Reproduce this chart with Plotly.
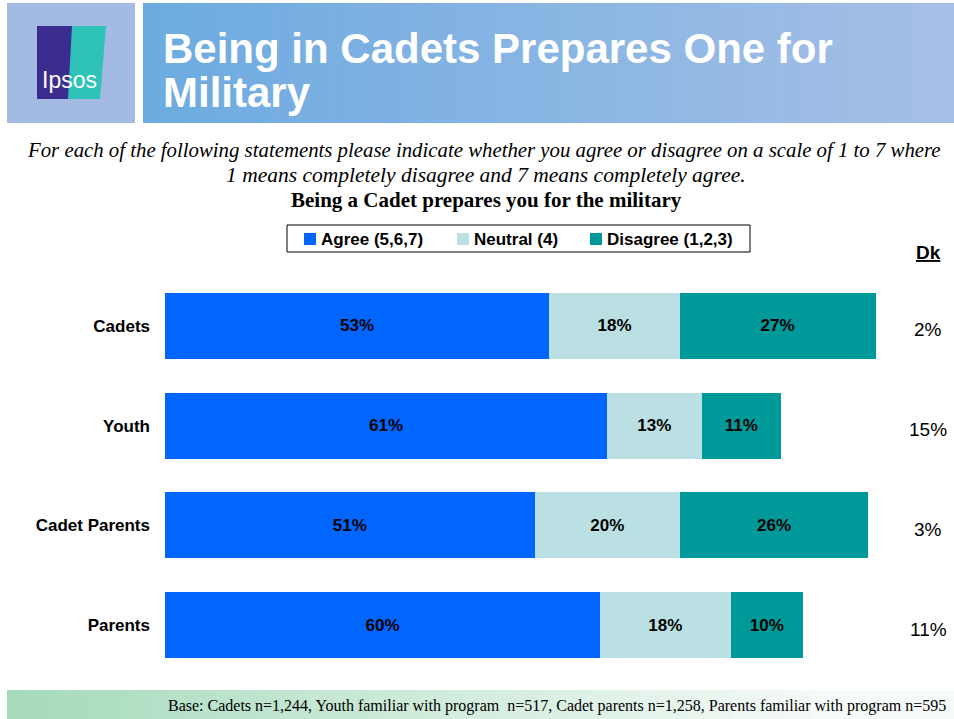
import plotly.graph_objects as go

# ---------------- data ----------------
categories = ["Cadets", "Youth", "Cadet Parents", "Parents"]
agree = [53, 61, 51, 60]
neutral = [18, 13, 20, 18]
disagree = [27, 11, 26, 10]
dont_know = [2, 15, 3, 11]
series_names = ["Agree (5,6,7)", "Neutral (4)", "Disagree (1,2,3)"]
series_colors = ["#0066ff", "#bbe0e3", "#009999"]

W, H = 954, 719
L, R, T, B = 165, 64, 276, 44
PW = W - L - R
PH = H - T - B


def xp(px):
    return (px - L) / PW


def yp(py):
    return (H - B - py) / PH


SANS = "Liberation Sans, Arial, sans-serif"
SERIF = "Liberation Serif, Times New Roman, serif"

fig = go.Figure()
for name, vals, col in zip(series_names, [agree, neutral, disagree], series_colors):
    fig.add_trace(go.Bar(
        y=categories, x=vals, name=name, orientation="h",
        marker=dict(color=col, line=dict(width=0)),
        texttemplate="%{x}%", textposition="inside", insidetextanchor="middle",
        textangle=0, constraintext="none",
        textfont=dict(family=SANS, size=17, color="black", weight="bold"),
        hoverinfo="skip", showlegend=False,
    ))

shapes = []
annotations = []

# header: left logo box
shapes.append(dict(type="rect", xref="paper", yref="paper",
                   x0=xp(7), x1=xp(135), y0=yp(123), y1=yp(3),
                   fillcolor="#a3bbe2", line=dict(width=0), layer="below"))
# header title band (gradient stripes)
n = 60
c0 = (108, 171, 224)
c1 = (166, 191, 230)
x_start, x_end = 143, 954
for i in range(n):
    t = i / (n - 1)
    col = tuple(int(round(c0[k] + (c1[k] - c0[k]) * t)) for k in range(3))
    xa = x_start + (x_end - x_start) * i / n
    xb = x_start + (x_end - x_start) * (i + 1) / n + 0.6
    shapes.append(dict(type="rect", xref="paper", yref="paper",
                       x0=xp(xa), x1=xp(xb), y0=yp(123), y1=yp(3),
                       fillcolor="rgb(%d,%d,%d)" % col, line=dict(width=0), layer="below"))
# logo
shapes.append(dict(type="rect", xref="paper", yref="paper",
                   x0=xp(37), x1=xp(73), y0=yp(99), y1=yp(26),
                   fillcolor="#3b2d8f", line=dict(width=0), layer="below"))
shapes.append(dict(type="path", xref="paper", yref="paper",
                   path="M %f,%f L %f,%f L %f,%f L %f,%f Z" % (
                       xp(72), yp(26), xp(106), yp(26), xp(100), yp(99), xp(68), yp(99)),
                   fillcolor="#2fc2b8", line=dict(width=0), layer="below"))
# footer gradient band
c0f = (166, 219, 188)
c1f = (246, 250, 248)
for i in range(n):
    t = i / (n - 1)
    col = tuple(int(round(c0f[k] + (c1f[k] - c0f[k]) * min(1, t * 1.15))) for k in range(3))
    xa = 7 + (954 - 7) * i / n
    xb = 7 + (954 - 7) * (i + 1) / n + 0.6
    shapes.append(dict(type="rect", xref="paper", yref="paper",
                       x0=xp(xa), x1=xp(xb), y0=yp(719), y1=yp(690),
                       fillcolor="rgb(%d,%d,%d)" % col, line=dict(width=0), layer="below"))

# manual legend
shapes.append(dict(type="rect", xref="paper", yref="paper",
                   x0=xp(287), x1=xp(750), y0=yp(252), y1=yp(225),
                   fillcolor="white", line=dict(color="black", width=1)))
legend_sq_x = [304, 457, 590]
for name, col, sx in zip(series_names, series_colors, legend_sq_x):
    shapes.append(dict(type="rect", xref="paper", yref="paper",
                       x0=xp(sx), x1=xp(sx + 12), y0=yp(245), y1=yp(233),
                       fillcolor=col, line=dict(width=0)))
    annotations.append(dict(xref="paper", yref="paper", x=xp(sx + 15), y=yp(239),
                            text=name, showarrow=False, xanchor="left", yanchor="middle",
                            font=dict(family=SANS, size=17, color="black", weight="bold")))

annotations.append(dict(xref="paper", yref="paper", x=xp(69), y=yp(80),
                        text="Ipsos", showarrow=False, xanchor="center", yanchor="middle",
                        font=dict(family=SANS, size=23, color="white")))
annotations.append(dict(xref="paper", yref="paper", x=xp(161), y=yp(48),
                        text="Being in Cadets Prepares One for",
                        showarrow=False, xanchor="left", yanchor="middle", align="left",
                        font=dict(family=SANS, size=42, color="white", weight="bold")))
annotations.append(dict(xref="paper", yref="paper", x=xp(161), y=yp(92),
                        text="Military",
                        showarrow=False, xanchor="left", yanchor="middle", align="left",
                        font=dict(family=SANS, size=42, color="white", weight="bold")))
annotations.append(dict(xref="paper", yref="paper", x=xp(484), y=yp(150),
                        text="For each of the following statements please indicate whether you agree or disagree on a scale of 1 to 7 where",
                        showarrow=False, xanchor="center", yanchor="middle",
                        font=dict(family=SERIF, size=20.8, color="black", style="italic")))
annotations.append(dict(xref="paper", yref="paper", x=xp(486), y=yp(175),
                        text="1 means completely disagree and 7 means completely agree.",
                        showarrow=False, xanchor="center", yanchor="middle",
                        font=dict(family=SERIF, size=21.5, color="black", style="italic")))
annotations.append(dict(xref="paper", yref="paper", x=xp(486), y=yp(200),
                        text="Being a Cadet prepares you for the military",
                        showarrow=False, xanchor="center", yanchor="middle",
                        font=dict(family=SERIF, size=21, color="black", weight="bold")))
annotations.append(dict(xref="paper", yref="paper", x=xp(948), y=yp(706),
                        text="Base: Cadets n=1,244, Youth familiar with program  n=517, Cadet parents n=1,258, Parents familiar with program n=595",
                        showarrow=False, xanchor="right", yanchor="middle",
                        font=dict(family=SERIF, size=16, color="black")))
annotations.append(dict(xref="paper", yref="paper", x=xp(928), y=yp(252),
                        text="<u><b>Dk</b></u>", showarrow=False, xanchor="center", yanchor="middle",
                        font=dict(family=SANS, size=19, color="black")))
for cat, dk in zip(categories, dont_know):
    annotations.append(dict(xref="paper", yref="y", x=xp(928), y=cat, yshift=-4,
                            text="%d%%" % dk, showarrow=False, xanchor="center", yanchor="middle",
                            font=dict(family=SANS, size=19, color="black")))

fig.update_layout(
    width=W, height=H,
    margin=dict(l=L, r=R, t=T, b=B, pad=0),
    barmode="stack", bargap=0.34,
    paper_bgcolor="white", plot_bgcolor="white",
    showlegend=False,
    xaxis=dict(range=[0, 100], visible=False, fixedrange=True),
    yaxis=dict(categoryorder="array", categoryarray=categories, autorange="reversed",
               showgrid=False, zeroline=False, showline=False, ticks="",
               ticklabelstandoff=14,
               tickfont=dict(family=SANS, size=17, color="black", weight="bold"),
               fixedrange=True),
    shapes=shapes, annotations=annotations,
)

fig.write_html("out.html")
